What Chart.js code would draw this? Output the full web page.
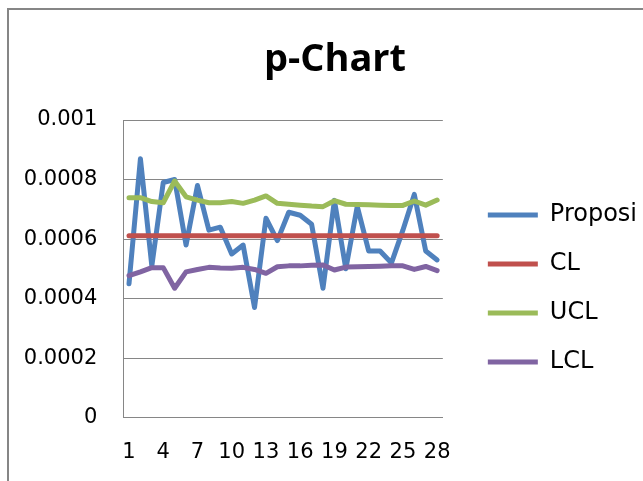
<!DOCTYPE html>
<html>
<head>
<meta charset="utf-8">
<script src="https://cdn.jsdelivr.net/npm/chart.js@4.4.1/dist/chart.umd.min.js"></script>
<style>
  html, body { margin: 0; padding: 0; background: #fff; overflow: hidden; }
  #wrap { width: 674px; height: 481px; }
</style>
</head>
<body>
<div id="wrap"><canvas id="myChart" width="674" height="481"></canvas></div>
<script>
const categories = ['1','2','3','4','5','6','7','8','9','10','11','12','13','14','15','16','17','18','19','20','21','22','23','24','25','26','27','28'];
const xTickLabels = ['1','4','7','10','13','16','19','22','25','28'];
const yTickLabels = ['0','0.0002','0.0004','0.0006','0.0008','0.001'];

const proporsi = [0.00045,0.00087,0.00051,0.00079,0.00080,0.00058,0.00078,0.00063,0.00064,0.00055,0.00058,0.00037,0.00067,0.000595,0.00069,0.00068,0.00065,0.000435,0.00073,0.00050,0.00071,0.00056,0.00056,0.00052,0.00063,0.00075,0.00056,0.00053];
const cl = [0.000611,0.000611,0.000611,0.000611,0.000611,0.000611,0.000611,0.000611,0.000611,0.000611,0.000611,0.000611,0.000611,0.000611,0.000611,0.000611,0.000611,0.000611,0.000611,0.000611,0.000611,0.000611,0.000611,0.000611,0.000611,0.000611,0.000611,0.000611];
const ucl = [0.000739,0.000739,0.000726,0.000722,0.000795,0.000742,0.000731,0.000722,0.000722,0.000726,0.00072,0.000731,0.000745,0.00072,0.000717,0.000714,0.000711,0.000709,0.000729,0.000717,0.000716,0.000715,0.000714,0.000713,0.000713,0.000728,0.000714,0.000731];
const lcl = [0.000477,0.00049,0.000504,0.000504,0.000435,0.00049,0.000498,0.000505,0.000503,0.000502,0.000505,0.000498,0.000485,0.000507,0.00051,0.00051,0.000512,0.000513,0.000496,0.000506,0.000507,0.000508,0.000509,0.00051,0.00051,0.000498,0.000508,0.000494];

const FONT = "'DejaVu Sans', sans-serif";
const TITLE_FONT = "'Open Sans', sans-serif";
const GRAY = '#868686';

function series(label, data, color, order) {
  return {
    label: label,
    data: data,
    borderColor: color,
    backgroundColor: color,
    borderWidth: 5,
    borderCapStyle: 'round',
    borderJoinStyle: 'round',
    pointRadius: 0,
    tension: 0,
    order: order
  };
}

// outer chart frame, it runs off the right and bottom of the picture
const frame = {
  id: 'frame',
  afterDraw(chart) {
    const c = chart.ctx;
    c.save();
    c.strokeStyle = GRAY;
    c.lineWidth = 2;
    c.strokeRect(8, 9, chart.width + 20, chart.height + 20);
    c.restore();
  }
};

const ctx = document.getElementById('myChart').getContext('2d');
const myChart = new Chart(ctx, {
  type: 'line',
  data: {
    labels: categories,
    datasets: [
      series('Proposi', proporsi, '#4F81BD', 4),
      series('CL', cl, '#C0504D', 3),
      series('UCL', ucl, '#9BBB59', 2),
      series('LCL', lcl, '#8064A2', 1)
    ]
  },
  options: {
    responsive: false,
    animation: false,
    devicePixelRatio: 1,
    layout: { padding: { top: 8, right: 27, bottom: 0, left: 23 } },
    plugins: {
      title: {
        display: true,
        text: 'p-Chart',
        color: '#000',
        font: { family: TITLE_FONT, size: 38, weight: 'bold' },
        padding: { top: 29, bottom: 37.4 }
      },
      legend: {
        position: 'right',
        fullSize: false,
        maxWidth: 300,
        title: { display: true, text: ' ', font: { family: FONT, size: 22 }, padding: { top: 13, bottom: 0 } },
        labels: {
          usePointStyle: true,
          pointStyle: 'line',
          pointStyleWidth: 50,
          padding: 25,
          color: '#000',
          font: { family: FONT, size: 24 },
          sort: (a, b) => a.datasetIndex - b.datasetIndex
        }
      },
      tooltip: { enabled: false }
    },
    scales: {
      x: {
        offset: true,
        grid: { display: false, drawTicks: false },
        border: { display: true, color: GRAY, width: 1 },
        ticks: {
          autoSkip: false,
          maxRotation: 0,
          padding: 22,
          color: '#000',
          font: { family: FONT, size: 21 },
          callback: function (v) {
            const l = this.getLabelForValue(v);
            return xTickLabels.includes(l) ? l : '';
          }
        },
        afterFit: s => { s.height = 63.3; }
      },
      y: {
        min: 0,
        max: 0.001,
        grid: { color: GRAY, lineWidth: 1, drawTicks: false },
        border: { display: true, color: GRAY, width: 1 },
        ticks: {
          stepSize: 0.0002,
          padding: 26,
          color: '#000',
          font: { family: FONT, size: 21 },
          callback: (v, i) => yTickLabels[i]
        },
        afterFit: s => { s.width = 100.3; }
      },
      // empty spacer between the plot and the legend
      gap: {
        position: 'right',
        display: true,
        grid: { display: false },
        border: { display: false },
        ticks: { display: false },
        afterFit: s => { s.width = 20; }
      }
    }
  },
  plugins: [frame]
});
</script>
</body>
</html>
